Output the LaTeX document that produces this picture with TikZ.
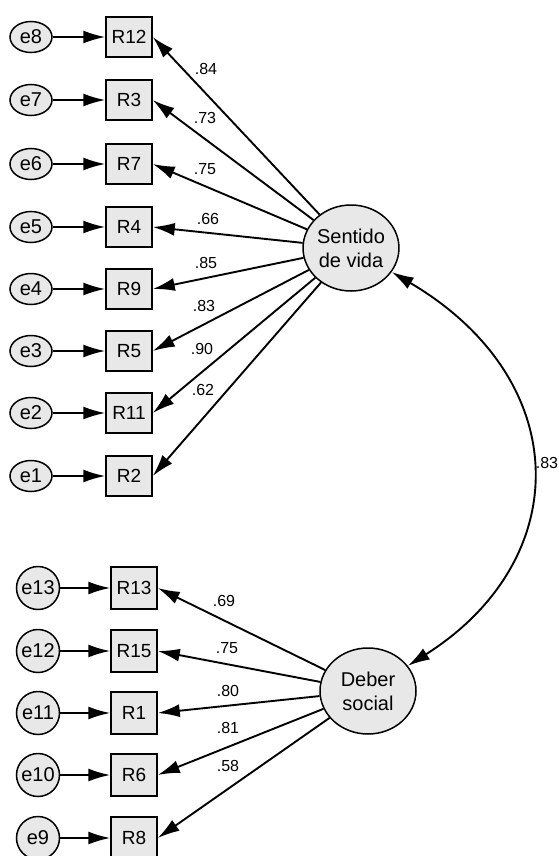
\documentclass[tikz,border=0pt]{standalone}
\usepackage{fontspec}
\setmainfont{Liberation Sans}
\usetikzlibrary{arrows.meta}
\usetikzlibrary{shapes.geometric}

\begin{document}
\begin{tikzpicture}[x=1pt, y=-1pt,
	errtop/.style={draw, ellipse, line width=1.5pt, fill=FILLGRAY, minimum width=42pt, minimum height=31pt, inner sep=0pt, font=\fontsize{20}{22}\selectfont},
	errbot/.style={draw, circle, line width=1.5pt, fill=FILLGRAY, minimum size=43pt, inner sep=0pt, font=\fontsize{20}{22}\selectfont},
	item/.style={draw, rectangle, line width=1.5pt, fill=FILLGRAY, minimum width=46pt, minimum height=40pt, inner sep=0pt, font=\fontsize{19}{21}\selectfont},
	factor/.style={draw, ellipse, line width=1.5pt, fill=FILLGRAY, inner sep=0pt, align=center, font=\fontsize{20}{24}\selectfont},
	coef/.style={inner sep=0pt, font=\fontsize{16}{18}\selectfont},
	path/.style={line width=1.9pt, -{Latex[length=22pt, width=13pt]}}]
			\definecolor{FILLGRAY}{RGB}{232, 232, 232}
			\useasboundingbox (0, 0) rectangle (559, 856);
			% latent factors
			\node[factor, minimum width=92pt, minimum height=86pt] (sentido) at (351, 248) {Sentido\\de vida};
			\node[factor, minimum width=96pt, minimum height=86pt] (deber) at (368, 691) {Deber\\social};
			% indicators of the first factor
			\node[item] (R12) at (129,  37) {R12};
			\node[item] (R3)  at (129, 100) {R3};
			\node[item] (R7)  at (129, 164) {R7};
			\node[item] (R4)  at (129, 227) {R4};
			\node[item] (R9)  at (129, 289) {R9};
			\node[item] (R5)  at (129, 351) {R5};
			\node[item] (R11) at (129, 413) {R11};
			\node[item] (R2)  at (129, 476) {R2};
			\node[errtop] (e8) at (31,  37) {e8};
			\node[errtop] (e7) at (31, 100) {e7};
			\node[errtop] (e6) at (31, 164) {e6};
			\node[errtop] (e5) at (31, 227) {e5};
			\node[errtop] (e4) at (31, 289) {e4};
			\node[errtop] (e3) at (31, 351) {e3};
			\node[errtop] (e2) at (31, 413) {e2};
			\node[errtop] (e1) at (31, 476) {e1};
			% indicators of the second factor
			\node[item, minimum height=42pt] (R13) at (134, 588) {R13};
			\node[item, minimum height=42pt] (R15) at (134, 651) {R15};
			\node[item, minimum height=42pt] (R1)  at (134, 713) {R1};
			\node[item, minimum height=42pt] (R6)  at (134, 775) {R6};
			\node[item, minimum height=42pt] (R8)  at (134, 838) {R8};
			\node[errbot] (e13) at (38, 588) {e13};
			\node[errbot] (e12) at (38, 651) {e12};
			\node[errbot] (e11) at (38, 713) {e11};
			\node[errbot] (e10) at (38, 775) {e10};
			\node[errbot] (e9)  at (38, 838) {e9};
			% error paths
			\draw[path] (e8) to (R12);
			\draw[path] (e7) to (R3);
			\draw[path] (e6) to (R7);
			\draw[path] (e5) to (R4);
			\draw[path] (e4) to (R9);
			\draw[path] (e3) to (R5);
			\draw[path] (e2) to (R11);
			\draw[path] (e1) to (R2);
			\draw[path] (e13) to (R13);
			\draw[path] (e12) to (R15);
			\draw[path] (e11) to (R1);
			\draw[path] (e10) to (R6);
			\draw[path] (e9) to (R8);
			% loadings
			\draw[path] (sentido) to (R12.east);
			\draw[path] (sentido) to (R3.east);
			\draw[path] (sentido) to (R7.east);
			\draw[path] (sentido) to (R4.east);
			\draw[path] (sentido) to (R9.east);
			\draw[path] (sentido) to (R5.east);
			\draw[path] (sentido) to (R11.east);
			\draw[path] (sentido) to (R2.east);
			\draw[path] (deber) to (R13.east);
			\draw[path] (deber) to (R15.east);
			\draw[path] (deber) to (R1.east);
			\draw[path] (deber) to (R6.east);
			\draw[path] (deber) to (R8.east);
			% covariance
			\draw[line width=1.9pt, {Latex[length=22pt, width=13pt]}-{Latex[length=22pt, width=13pt]}] (sentido) .. controls (575, 380) and (575, 560) .. (deber);
			\node[coef] (c83) at (547, 463) {.83};
			% coefficients
			\node[coef] (l84) at (206,  69) {.84};
			\node[coef] (l73) at (205, 118) {.73};
			\node[coef] (l75) at (205, 169) {.75};
			\node[coef] (l66) at (208, 219) {.66};
			\node[coef] (l85) at (206, 263) {.85};
			\node[coef] (l83) at (204, 306) {.83};
			\node[coef] (l90) at (202, 349) {.90};
			\node[coef] (l62) at (203, 390) {.62};
			\node[coef] (l69) at (224, 601) {.69};
			\node[coef] (l75b) at (227, 648) {.75};
			\node[coef] (l80) at (228, 691) {.80};
			\node[coef] (l81) at (228, 728) {.81};
			\node[coef] (l58) at (228, 766) {.58};
\end{tikzpicture}
\end{document}
